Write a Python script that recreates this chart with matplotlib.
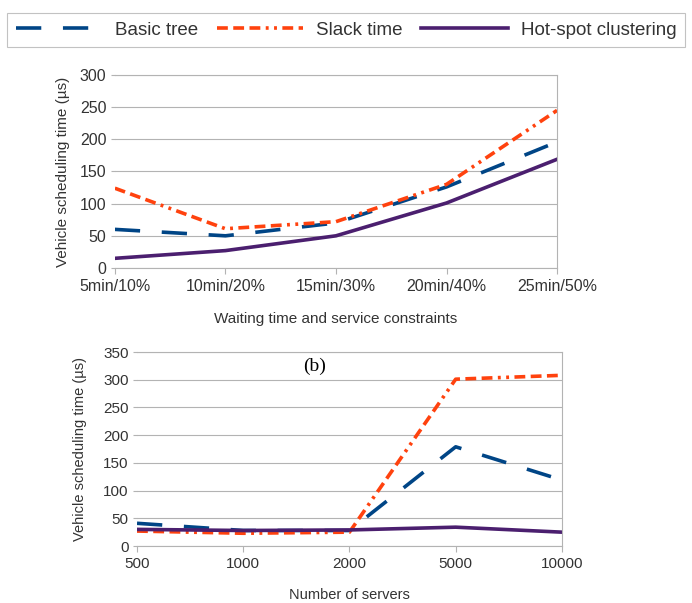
# two line charts: scheduling time vs constraints (top) and vs servers (b)
import matplotlib.pyplot as plt
from matplotlib.lines import Line2D

plt.rcParams['font.family'] = ['Liberation Sans', 'DejaVu Sans']

# data
constraints = ['5min/10%', '10min/20%', '15min/30%', '20min/40%', '25min/50%']
basic_a = [60, 50, 70, 126, 196]
slack_a = [124, 61, 72, 130, 245]
hotspot_a = [15, 27, 50, 101, 169]

servers = ['500', '1000', '2000', '5000', '10000']
basic_b = [41, 28, 28, 179, 119]
slack_b = [27, 23, 25, 301, 308]
hotspot_b = [30, 28, 29, 34, 25]

# LibreOffice default colours
c_basic = '#004586'
c_slack = '#ff420e'
c_hot = '#4b1f6f'
grid_c = '#b3b3b3'
text_c = '#333333'

ls_basic = (0, (7, 6))
ls_slack = (0, (3, 1.5, 3, 1.5, 3, 1.5, 0.8, 1.5, 0.8, 1.5))
lw = 2.6

fig = plt.figure(figsize=(6.92, 6.03), dpi=100)
ax1 = fig.add_axes([0.166, 0.5556, 0.639, 0.32])
ax2 = fig.add_axes([0.198, 0.0945, 0.614, 0.3217])


def style(ax, labels, ymax, ystep, fs):
    x = range(len(labels))
    ax.set_xlim(0, len(labels) - 1)
    ax.set_ylim(0, ymax)
    ax.set_xticks(list(x))
    ax.set_xticklabels(labels, fontsize=fs, color=text_c)
    ax.set_yticks(range(0, ymax + 1, ystep))
    ax.tick_params(axis='y', labelsize=fs, labelcolor=text_c, length=3, color=grid_c, pad=3)
    ax.tick_params(axis='x', length=4, color=grid_c, pad=4)
    ax.grid(axis='y', color=grid_c, lw=0.8)
    ax.set_axisbelow(True)
    for s in ax.spines.values():
        s.set_color(grid_c)
        s.set_linewidth(0.8)
    ax.spines['left'].set_visible(False)


# top chart
x = range(len(constraints))
ax1.plot(x, basic_a, color=c_basic, lw=lw, ls=ls_basic, dash_capstyle='butt')
ax1.plot(x, slack_a, color=c_slack, lw=lw, ls=ls_slack, dash_capstyle='butt')
ax1.plot(x, hotspot_a, color=c_hot, lw=lw)
style(ax1, constraints, 300, 50, 11.5)
ax1.set_ylabel('Vehicle scheduling time (µs)', fontsize=11, labelpad=7, color=text_c)
ax1.set_xlabel('Waiting time and service constraints', fontsize=11, labelpad=13,
               color=text_c)

# bottom chart
x = range(len(servers))
ax2.plot(x, basic_b, color=c_basic, lw=lw, ls=ls_basic, dash_capstyle='butt')
ax2.plot(x, slack_b, color=c_slack, lw=lw, ls=ls_slack, dash_capstyle='butt')
ax2.plot(x, hotspot_b, color=c_hot, lw=lw)
style(ax2, servers, 350, 50, 11)
ax2.set_ylabel('Vehicle scheduling time (µs)', fontsize=10.5, labelpad=12, color=text_c)
ax2.set_xlabel('Number of servers', fontsize=10.5, labelpad=12, color=text_c)
ax2.text(0.419, 0.928, '(b)', transform=ax2.transAxes, ha='center', va='center',
         fontsize=14, family=['Liberation Serif', 'DejaVu Serif'])

# legend on top
handles = [
    Line2D([], [], color=c_basic, lw=lw, ls=ls_basic, dash_capstyle='butt'),
    Line2D([], [], color=c_slack, lw=lw, ls=ls_slack, dash_capstyle='butt'),
    Line2D([], [], color=c_hot, lw=lw),
]
leg = fig.legend(handles, ['Basic tree', 'Slack time', 'Hot-spot clustering'],
                 loc='center', bbox_to_anchor=(0.5, 0.95), ncol=3, fontsize=13.5,
                 frameon=True, fancybox=False, edgecolor=grid_c,
                 handlelength=4.6, columnspacing=1.0, handletextpad=0.7,
                 borderpad=0.45)
leg.get_frame().set_linewidth(0.8)
for t in leg.get_texts():
    t.set_color(text_c)

plt.savefig('out.png', dpi=100)
